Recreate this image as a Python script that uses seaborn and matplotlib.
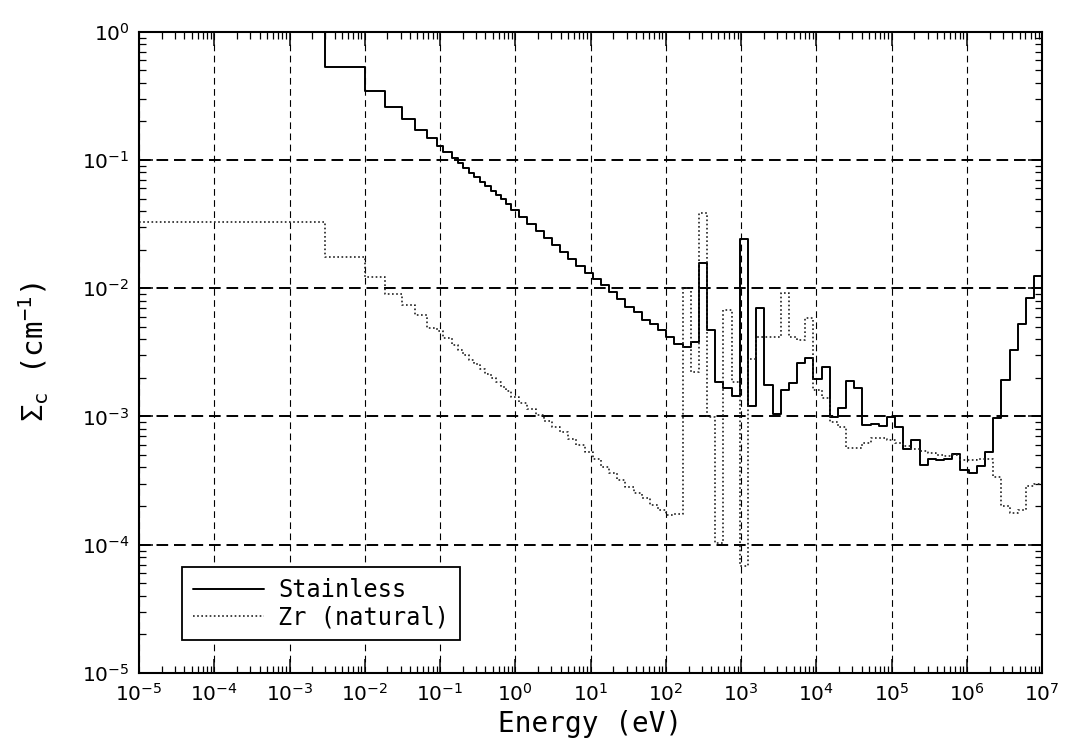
import numpy as np
import pandas as pd
import matplotlib
matplotlib.use("Agg")
import matplotlib.pyplot as plt
import seaborn as sns
from matplotlib.ticker import LogLocator, FixedLocator, FixedFormatter, NullFormatter

# ---------------- data ----------------
# energy group boundaries (eV), ascending
group_bounds_eV = [1e-5, 3.0e-3, 1.0e-2, 1.86e-2, 3.1e-2, 4.7e-2, 6.7e-2, 9.2e-2, 0.111, 0.143,
                   0.173, 0.204, 0.245, 0.286, 0.34, 0.396, 0.472, 0.555, 0.641, 0.754,
                   0.8764, 1.125, 1.445, 1.855, 2.382, 3.059, 3.928, 5.043, 6.476, 8.315,
                   10.68, 13.71, 17.60, 22.60, 29.02, 37.27, 47.85, 61.44, 78.89, 101.3,
                   130.1, 167.0, 214.4, 275.4, 353.6, 454.0, 582.9, 748.5, 961.1, 1234,
                   1585, 2035, 2613, 3355, 4307, 5531, 7102, 9119, 1.171e4, 1.503e4,
                   1.930e4, 2.479e4, 3.183e4, 4.087e4, 5.248e4, 6.738e4, 8.652e4, 1.111e5, 1.426e5, 1.832e5,
                   2.352e5, 3.020e5, 3.877e5, 4.979e5, 6.393e5, 8.209e5, 1.054e6, 1.353e6, 1.738e6, 2.231e6,
                   2.865e6, 3.679e6, 4.724e6, 6.065e6, 7.788e6, 1.0e7]

stainless_sigma = [1.3, 0.53, 0.347, 0.26, 0.207, 0.171, 0.147, 0.129, 0.116, 0.1035,
                   0.0946, 0.0869, 0.0798, 0.0735, 0.0676, 0.0624, 0.0574, 0.0531, 0.0492, 0.0455,
                   0.041, 0.0362, 0.0319, 0.0281, 0.0248, 0.0219, 0.0193, 0.0170, 0.0150, 0.0132,
                   0.0118, 0.0106, 0.0094, 0.0082, 0.0072, 0.0065, 0.0057, 0.0053, 0.0047, 0.0042,
                   0.0037, 0.0035, 0.0038, 0.0158, 0.0047, 0.00184, 0.00168, 0.00145, 0.024, 0.0012,
                   0.00698, 0.00176, 0.00105, 0.00161, 0.00182, 0.00263, 0.00284, 0.00195, 0.00245, 0.00099,
                   0.00116, 0.0019, 0.00166, 0.00086, 0.00087, 0.00085, 0.00099, 0.00083, 0.00056, 0.00066,
                   0.00042, 0.00047, 0.00046, 0.00047, 0.00051, 0.00038, 0.00036, 0.00041, 0.00053, 0.00097,
                   0.00193, 0.00327, 0.0053, 0.00836, 0.0125]

zr_sigma = [0.033, 0.0176, 0.0123, 0.0090, 0.0074, 0.0062, 0.0049, 0.0046, 0.0041, 0.00363,
            0.00331, 0.00302, 0.00277, 0.00255, 0.00234, 0.00216, 0.00199, 0.00184, 0.0017, 0.00157,
            0.00143, 0.00128, 0.00115, 0.00103, 0.00093, 0.00083, 0.00075, 0.00067, 0.0006, 0.00053,
            0.00047, 0.000407, 0.00036, 0.00032, 0.000284, 0.000252, 0.000231, 0.000204, 0.000187, 0.000172,
            0.000175, 0.0100, 0.00224, 0.0385, 0.00099, 0.000103, 0.0068, 0.00184, 0.000068, 0.0028,
            0.0042, 0.0042, 0.0042, 0.0092, 0.0042, 0.00395, 0.00583, 0.0016, 0.0014, 0.0009,
            0.00083, 0.00057, 0.00057, 0.00062, 0.00068, 0.00068, 0.00065, 0.00062, 0.00059, 0.00056,
            0.00054, 0.00052, 0.0005, 0.00049, 0.0005, 0.00046, 0.00046, 0.00047, 0.00047, 0.00034,
            0.0002, 0.000176, 0.000185, 0.000285, 0.0003]

series_names = ["Stainless", "Zr (natural)"]

x_ticks = [1e-5, 1e-4, 1e-3, 1e-2, 1e-1, 1e0, 1e1, 1e2, 1e3, 1e4, 1e5, 1e6, 1e7]
x_tick_labels = [r"$10^{-5}$", r"$10^{-4}$", r"$10^{-3}$", r"$10^{-2}$", r"$10^{-1}$", r"$10^{0}$",
                 r"$10^{1}$", r"$10^{2}$", r"$10^{3}$", r"$10^{4}$", r"$10^{5}$", r"$10^{6}$", r"$10^{7}$"]
y_ticks = [1e-5, 1e-4, 1e-3, 1e-2, 1e-1, 1e0]
y_tick_labels = [r"$10^{-5}$", r"$10^{-4}$", r"$10^{-3}$", r"$10^{-2}$", r"$10^{-1}$", r"$10^{0}$"]


def step_frame(bounds, vals):
    return pd.DataFrame({"E": bounds, "sigma": list(vals) + [vals[-1]]})


# ---------------- style ----------------
sns.set_theme(style="ticks")
plt.rcParams["font.family"] = ["DejaVu Sans"]
plt.rcParams["mathtext.default"] = "regular"
plt.rcParams["axes.axisbelow"] = True
plt.rcParams["text.color"] = "black"
plt.rcParams["axes.labelcolor"] = "black"
plt.rcParams["xtick.color"] = "black"
plt.rcParams["ytick.color"] = "black"

MONO = ["DejaVu Sans Mono", "Liberation Mono", "DejaVu Sans"]

fig = plt.figure(figsize=(10.71, 7.46), dpi=100)
ax = fig.add_axes([0.1298, 0.0979, 0.8433, 0.8596])
ax.set_xscale("log")
ax.set_yscale("log")

sns.lineplot(data=step_frame(group_bounds_eV, stainless_sigma), x="E", y="sigma",
             drawstyle="steps-post", estimator=None, sort=True, color="black",
             linewidth=1.4, ax=ax, label=series_names[0])
sns.lineplot(data=step_frame(group_bounds_eV, zr_sigma), x="E", y="sigma",
             drawstyle="steps-post", estimator=None, sort=True, color="#222222",
             linewidth=1.2, linestyle=(0, (1, 1.5)), ax=ax, label=series_names[1])

ax.set_xlim(1e-5, 1e7)
ax.set_ylim(1e-5, 1e0)

ax.xaxis.set_major_locator(FixedLocator(x_ticks))
ax.xaxis.set_major_formatter(FixedFormatter(x_tick_labels))
ax.yaxis.set_major_locator(FixedLocator(y_ticks))
ax.yaxis.set_major_formatter(FixedFormatter(y_tick_labels))
ax.xaxis.set_minor_locator(LogLocator(base=10, subs=np.arange(2, 10), numticks=100))
ax.yaxis.set_minor_locator(LogLocator(base=10, subs=np.arange(2, 10), numticks=100))
ax.xaxis.set_minor_formatter(NullFormatter())
ax.yaxis.set_minor_formatter(NullFormatter())

ax.tick_params(which="both", direction="in", top=True, right=True, colors="black")
ax.tick_params(which="major", length=10, width=1.1, labelsize=14.5, pad=7)
ax.tick_params(which="minor", length=5, width=0.9)

ax.xaxis.grid(True, which="major", linestyle=(0, (6, 4)), color="black", linewidth=0.8)
ax.yaxis.grid(True, which="major", linestyle=(0, (6, 3)), color="black", linewidth=1.4)

for s in ax.spines.values():
    s.set_color("black")
    s.set_linewidth(1.5)

ax.set_xlabel("Energy (eV)", fontsize=20, labelpad=4, family=MONO, color="black")
ax.set_ylabel(r"$Σ_{c}$ (cm$^{-1}$)", fontsize=21, labelpad=22, family=MONO, color="black")

leg = ax.legend(loc="lower left", bbox_to_anchor=(0.048, 0.051), frameon=True, fancybox=False,
                edgecolor="black", facecolor="white", framealpha=1,
                prop={"family": MONO, "size": 17},
                handlelength=3.0, handletextpad=0.6, borderaxespad=0, borderpad=0.45,
                labelspacing=0.15)
leg.get_frame().set_linewidth(1.3)
for t in leg.get_texts():
    t.set_color("black")

fig.savefig("out.png", dpi=100, facecolor="white")
